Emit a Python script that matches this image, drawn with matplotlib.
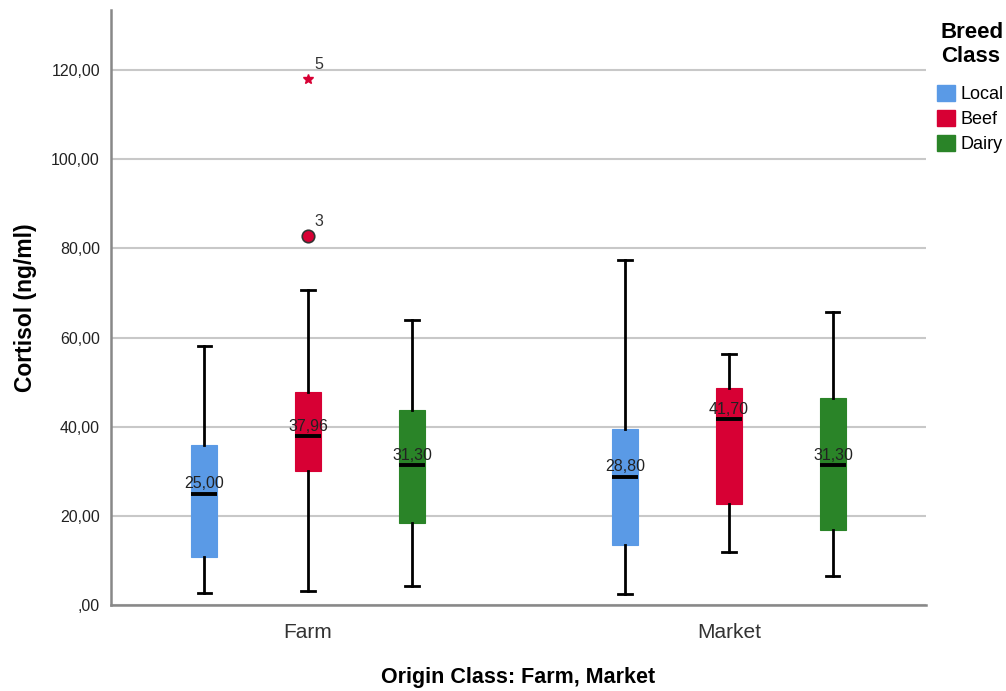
import matplotlib
matplotlib.use("Agg")
import matplotlib.pyplot as plt
from matplotlib.patches import Patch

plt.rcParams['font.family'] = ['Liberation Sans', 'DejaVu Sans']

origins = ["Farm", "Market"]
breeds = ["Local", "Beef", "Dairy"]
colors = ["#5a9ae6", "#d70034", "#2a8428"]

# [Farm, Market] per breed
whislo = {"Local": [2.8, 2.5], "Beef": [3.2, 12.0], "Dairy": [4.3, 6.5]}
q1 = {"Local": [10.7, 13.4], "Beef": [30.0, 22.7], "Dairy": [18.5, 16.8]}
med = {"Local": [25.00, 28.80], "Beef": [37.96, 41.70], "Dairy": [31.30, 31.30]}
q3 = {"Local": [35.9, 39.5], "Beef": [47.8, 48.8], "Dairy": [43.7, 46.4]}
whishi = {"Local": [58.2, 77.4], "Beef": [70.7, 56.3], "Dairy": [63.9, 65.7]}
median_labels = {"Local": ["25,00", "28,80"], "Beef": ["37,96", "41,70"], "Dairy": ["31,30", "31,30"]}

# outliers
outlier_vals = [82.8, 118.0]
outlier_case = ["3", "5"]
outlier_kind = ["circle", "extreme"]
outlier_group = [(0, "Beef"), (0, "Beef")]

yticks = [0, 20, 40, 60, 80, 100, 120]
ytick_labels = [",00", "20,00", "40,00", "60,00", "80,00", "100,00", "120,00"]

fig = plt.figure(figsize=(10.06, 6.91), dpi=100)
ax = fig.add_axes([111/1006, 86/691, 815/1006, 595/691])

offset = 0.247
bw = 0.062
for bi, b in enumerate(breeds):
    for oi in range(len(origins)):
        pos = oi + (bi - 1) * offset
        st = dict(whislo=whislo[b][oi], q1=q1[b][oi], med=med[b][oi],
                  q3=q3[b][oi], whishi=whishi[b][oi], fliers=[])
        ax.bxp([st], positions=[pos], widths=bw, patch_artist=True,
               showfliers=False, showcaps=True,
               boxprops=dict(facecolor=colors[bi], edgecolor=colors[bi], linewidth=0.8),
               medianprops=dict(color="black", linewidth=2.8, solid_capstyle="butt"),
               whiskerprops=dict(color="black", linewidth=2.0),
               capprops=dict(color="black", linewidth=2.0),
               capwidths=0.031, zorder=3)
        ax.text(pos, med[b][oi] + 0.5, median_labels[b][oi], ha="center", va="bottom",
                fontsize=11.5, color="#222222", zorder=5)

for v, lab, kind, (oi, b) in zip(outlier_vals, outlier_case, outlier_kind, outlier_group):
    bi = breeds.index(b)
    pos = oi + (bi - 1) * offset
    if kind == "circle":
        ax.plot(pos, v, marker="o", markersize=9, markerfacecolor=colors[bi],
                markeredgecolor="#333333", markeredgewidth=1.2, zorder=4, linestyle="none")
    else:
        ax.plot(pos, v, marker="*", markersize=7, color=colors[bi], zorder=4, linestyle="none")
    ax.text(pos + 0.015, v + 1.5, lab, fontsize=11.5, color="#333333", ha="left", va="bottom")

ax.set_xlim(-0.468, 1.468)
ax.set_ylim(0, 133.5)
ax.set_yticks(yticks)
ax.set_yticklabels(ytick_labels, fontsize=11.5, color="#222222")
ax.set_xticks([0, 1])
ax.set_xticklabels(origins, fontsize=15, color="#333333")
ax.tick_params(axis="both", length=0)
ax.tick_params(axis="x", pad=13)
ax.tick_params(axis="y", pad=8)
ax.yaxis.grid(True, color="#c8c8c8", linewidth=1.5)
ax.set_axisbelow(True)
for s in ["top", "right"]:
    ax.spines[s].set_visible(False)
for s in ["left", "bottom"]:
    ax.spines[s].set_color("#888888")
    ax.spines[s].set_linewidth(1.8)

ax.set_ylabel("Cortisol (ng/ml)", fontsize=16.5, fontweight="bold", labelpad=10)
ax.set_xlabel("Origin Class: Farm, Market", fontsize=15.5, fontweight="bold", labelpad=18)

handles = [Patch(facecolor=c, edgecolor=c) for c in colors]
leg = fig.legend(handles, breeds, title="Breed\nClass", loc="upper right",
                 bbox_to_anchor=(1004/1006, 1 - 22/691), frameon=False,
                 fontsize=13, title_fontproperties=dict(weight="bold", size=16),
                 handlelength=0.95, handleheight=0.95, handletextpad=0.35,
                 labelspacing=0.38, borderaxespad=0, borderpad=0.0)
leg._legend_box.align = "right"
leg._legend_box.sep = 13

fig.savefig("out.png", dpi=100)
